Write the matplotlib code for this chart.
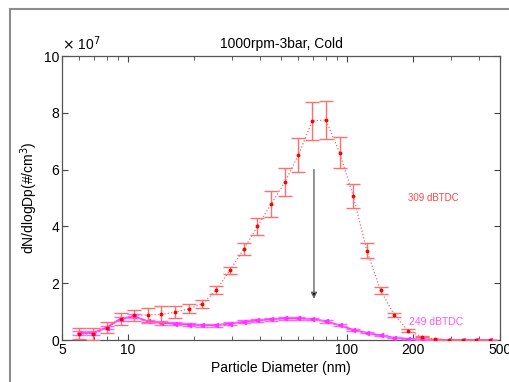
import matplotlib
matplotlib.use('Agg')
import matplotlib.pyplot as plt
from matplotlib.patches import Rectangle
from matplotlib.ticker import FixedLocator, NullFormatter

plt.rcParams['font.family'] = ['Liberation Sans', 'DejaVu Sans']

# particle diameter bins (nm)
diam = [6.0, 6.93, 8.0, 9.25, 10.7, 12.3, 14.2, 16.4, 19.0, 21.9, 25.3, 29.2,
        33.8, 39.0, 45.0, 52.0, 60.1, 69.4, 80.1, 92.5, 106.8, 123.3, 142.4,
        164.4, 189.9, 219.2, 253.2, 292.4, 337.6, 389.8, 450.2]

# dN/dlogDp in units of 1e7 #/cm3
red_vals = [0.22, 0.22, 0.44, 0.74, 0.87, 0.88, 0.90, 0.98, 1.10, 1.28, 1.75, 2.45,
            3.20, 4.00, 4.78, 5.55, 6.52, 7.71, 7.75, 6.60, 5.08, 3.15, 1.75,
            0.88, 0.33, 0.12, 0.03, 0.01, 0.0, 0.0, 0.0]
red_err = [0.19, 0.22, 0.20, 0.22, 0.20, 0.24, 0.28, 0.20, 0.16, 0.14, 0.14, 0.13,
           0.20, 0.30, 0.45, 0.49, 0.59, 0.68, 0.68, 0.55, 0.42, 0.26, 0.12,
           0.06, 0.04, 0.02, 0.01, 0.005, 0.0, 0.0, 0.0]

mag_vals = [0.24, 0.25, 0.44, 0.75, 0.83, 0.66, 0.60, 0.58, 0.54, 0.52, 0.52, 0.58,
            0.64, 0.69, 0.73, 0.76, 0.76, 0.74, 0.66, 0.52, 0.36, 0.25, 0.16,
            0.08, 0.04, 0.02, 0.01, 0.0, 0.0, 0.0, 0.0]
mag_err = [0.08, 0.08, 0.07, 0.07, 0.07, 0.06, 0.06, 0.06, 0.05, 0.05, 0.05, 0.05,
           0.05, 0.05, 0.05, 0.05, 0.05, 0.05, 0.05, 0.04, 0.03, 0.02, 0.02,
           0.01, 0.01, 0.01, 0.0, 0.0, 0.0, 0.0, 0.0]

fig = plt.figure(figsize=(5.1, 3.82), dpi=100)

# grey frame of the original figure window
fig.patches.append(Rectangle((10 / 510, -0.1), 1.2, 1 - 9 / 382 + 0.1,
                             transform=fig.transFigure, fill=False,
                             edgecolor='#8c8c8c', linewidth=1.5))

ax = fig.add_axes([62 / 510, 1 - 340 / 382, 438 / 510, 284 / 382])

ax.plot(diam, mag_vals, '-', color='#ff33ff', linewidth=1.3, zorder=2)
ax.errorbar(diam, mag_vals, yerr=mag_err, fmt='<', color='#ff33ff',
            markersize=3, ecolor='#ff66ff', elinewidth=1, capsize=5, zorder=3)

ax.plot(diam, red_vals, ':', color='#ff6666', linewidth=0.9, zorder=4)
ax.errorbar(diam, red_vals, yerr=red_err, fmt='.', color='#ff0000',
            markersize=3.5, ecolor='#ff6f6f', elinewidth=1, capsize=5, zorder=5)

ax.annotate('', xy=(70.7, 1.45), xytext=(70.7, 6.0),
            arrowprops=dict(arrowstyle='-|>', color='#666666', lw=1.0,
                            mutation_scale=9, shrinkA=0, shrinkB=0,
                            fc='black'))

ax.text(190, 5.0, '309 dBTDC', color='#ff4444', fontsize=7, va='center')
ax.text(193, 0.62, '249 dBTDC', color='#ff55ff', fontsize=7.5, va='center')

ax.set_xscale('log')
ax.set_xlim(5, 500)
ax.set_ylim(0, 10)
ax.xaxis.set_major_locator(FixedLocator([5, 10, 100, 200, 500]))
ax.set_xticklabels(['5', '10', '100', '200', '500'])
ax.xaxis.set_minor_locator(FixedLocator([6, 7, 8, 9, 20, 30, 40, 50, 60, 70, 80, 90, 300, 400]))
ax.xaxis.set_minor_formatter(NullFormatter())
ax.set_yticks([0, 2, 4, 6, 8, 10])

ax.tick_params(which='both', direction='in', top=True, right=True,
               labelsize=10, color='#444444', pad=2)
ax.tick_params(which='major', length=4)
ax.tick_params(which='minor', length=3)
for s in ax.spines.values():
    s.set_color('#555555')
    s.set_linewidth(0.9)

ax.set_title('1000rpm-3bar, Cold', fontsize=10, pad=6)
ax.set_xlabel('Particle Diameter (nm)', fontsize=10, labelpad=3)
ax.set_ylabel('dN/dlogDp(#/cm$^3$)', fontsize=10, labelpad=3)
ax.text(0.0, 1.01, '$\\times$ 10$^7$', transform=ax.transAxes, fontsize=10,
        ha='left', va='bottom')

fig.savefig('out.png', dpi=100)
